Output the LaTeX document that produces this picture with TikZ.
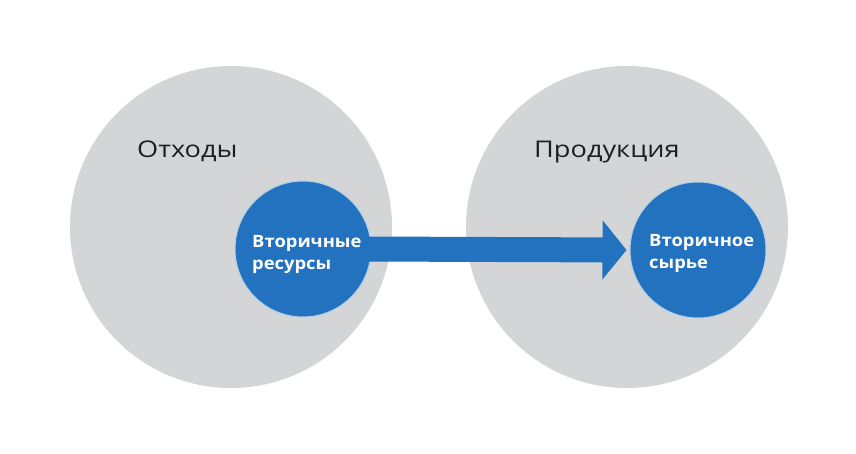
\documentclass[tikz,border=0pt]{standalone}
\usepackage{fontspec}
\setmainfont{Open Sans}
\newfontfamily\titlefont[FakeStretch=1.18]{Open Sans}
\newfontfamily\blockfont[FakeStretch=1.08]{Open Sans}
\usetikzlibrary{arrows.meta}
\definecolor{graybg}{HTML}{D4D5D7}
\definecolor{bluec}{HTML}{2272BF}
\definecolor{titlec}{HTML}{1E1E1E}
\begin{document}
\begin{tikzpicture}[x=1pt,y=-1pt,
  bigc/.style={circle,fill=graybg,draw=none,inner sep=0pt,minimum size=322pt},
  smallc/.style={circle,fill=bluec,draw=white!65!bluec,line width=1pt,inner sep=0pt,minimum size=136pt},
  titletext/.style={inner sep=0pt,text=titlec,font=\titlefont\fontsize{23}{28}\selectfont},
  innertext/.style={inner sep=0pt,text=white,align=left,font=\blockfont\fontsize{17}{22}\selectfont\bfseries},
  flow/.style={draw=bluec,line width=25pt,-{Triangle[length=24pt,width=58pt]}}]
\useasboundingbox[fill=white] (0,0) rectangle (856,454);
\node[bigc] (lg) at (231,227) {};
\node[bigc] (rg) at (627,227) {};
\node[titletext,anchor=base west] (lt) at (137,158) {Отходы};
\node[titletext,anchor=base west] (rt) at (534,158) {Продукция};
\node[smallc] (lb) at (303,249) {};
\node[smallc] (rb) at (698,250) {};
\draw[flow] ([xshift=-8pt]lb.east) -- ([xshift=-3pt]rb.west);
\node[innertext,anchor=west] (ltx) at (252,254) {Вторичные\\ресурсы};
\node[innertext,anchor=west] (rtx) at (649,253) {Вторичное\\сырье};
\end{tikzpicture}
\end{document}
